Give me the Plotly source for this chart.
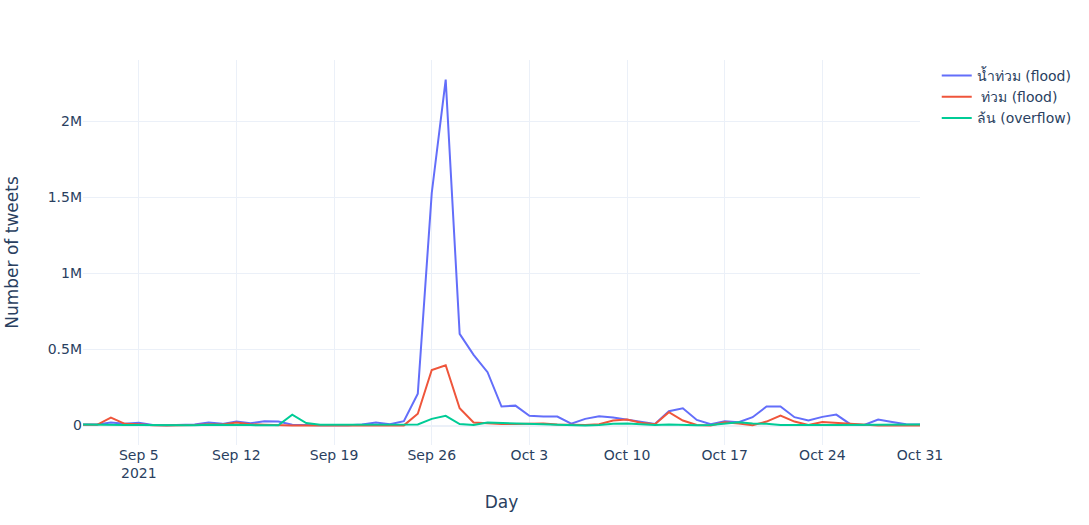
import pandas as pd
import plotly.graph_objects as go

# Daily tweet counts, 1 Sep - 31 Oct 2021
days = pd.date_range("2021-09-01", "2021-10-31", freq="D")

nam_thuam = [
    7000, 7000, 20000, 12000, 18000, 3000, 2000, 5000, 7000, 20000,
    11000, 27000, 15000, 29000, 27000, 5000, 2000, 2000, 2000, 2000,
    7000, 20000, 9000, 29000, 210000, 1530000, 2276000, 603000, 465000, 351000,
    125000, 131000, 64000, 59000, 59000, 12000, 44000, 61000, 53000, 40000,
    22000, 11000, 94000, 114000, 37000, 9000, 28000, 22000, 55000, 125000,
    125000, 55000, 33000, 57000, 72000, 9000, 4000, 40000, 24000, 9000,
    7000,
]

thuam = [
    5000, 5000, 52000, 11000, 9000, 2000, 0, 1000, 4000, 9000,
    7000, 20000, 9000, 5000, 2000, 1000, 1000, 1000, 1000, 1000,
    1000, 1000, 1000, 1000, 78000, 365000, 397000, 114000, 20000, 13000,
    10000, 10000, 10000, 13000, 7000, 4000, 4000, 9000, 33000, 40000,
    18000, 9000, 88000, 33000, 4000, 0, 22000, 13000, 2000, 26000,
    66000, 26000, 4000, 24000, 18000, 11000, 4000, 0, 0, 0,
    0,
]

lon = [
    7000, 5000, 1000, 3000, 3000, 2000, 1000, 1000, 2000, 5000,
    3000, 5000, 3000, 2000, 2000, 72000, 16000, 5000, 5000, 3000,
    5000, 5000, 3000, 3000, 7000, 44000, 64000, 10000, 3000, 20000,
    16000, 12000, 10000, 8000, 6000, 4000, 0, 4000, 11000, 13000,
    7000, 4000, 7000, 4000, 2000, 4000, 15000, 22000, 13000, 11000,
    4000, 2000, 2000, 3000, 3000, 4000, 5000, 6000, 6000, 7000,
    7000,
]

series = [
    ("น้ำท่วม (flood)", nam_thuam),
    (" ท่วม (flood)", thuam),
    ("ล้น (overflow)", lon),
]

fig = go.Figure()
for name, values in series:
    fig.add_trace(go.Scatter(x=days, y=values, mode="lines", name=name))

fig.update_layout(
    template="plotly_white",
    width=1089,
    height=525,
    margin=dict(t=60, b=80, l=80, r=169),
    font=dict(family="DejaVu Sans", size=14),
    xaxis_title="Day",
    yaxis_title="Number of tweets",
    xaxis_title_font_size=17,
    yaxis_title_font_size=17,
    yaxis_title_standoff=24,
    yaxis_range=[-128000, 2405000],
)
fig.update_xaxes(gridcolor="#EBF0F8", zerolinecolor="#EBF0F8")
fig.update_yaxes(gridcolor="#EBF0F8", zerolinecolor="#EBF0F8")

# page body has an 8px margin by default; drop it so the figure sits at 0,0
fig.write_html(
    "out.html",
    config={"displayModeBar": False},
    post_script="document.body.style.margin='0';",
)
